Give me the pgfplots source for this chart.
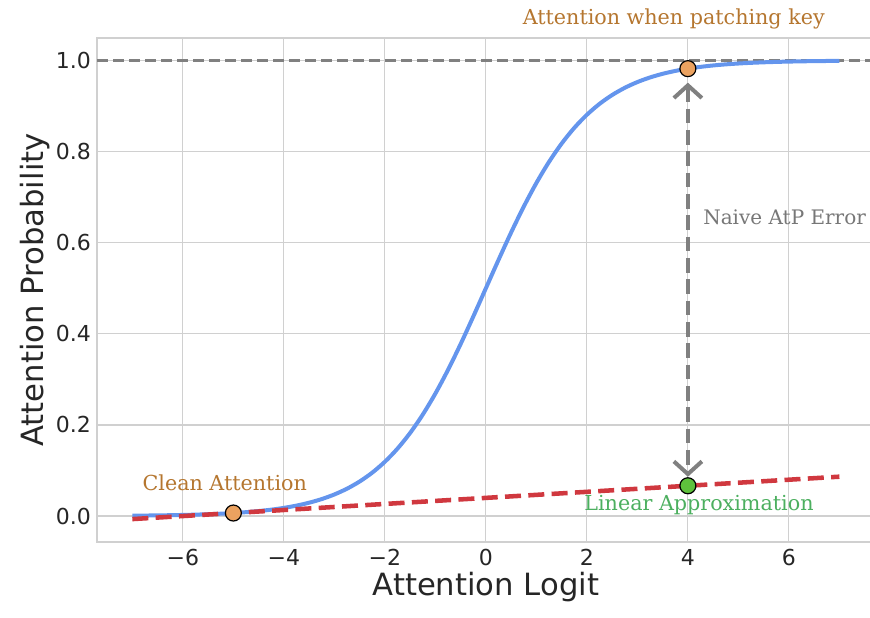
\documentclass[border=0pt]{standalone}
\usepackage{fontspec}
\setmainfont{DejaVu Sans}
\newfontfamily\annfont{DejaVu Serif}
\usepackage{pgfplots}
\pgfplotsset{compat=1.18}
\usetikzlibrary{arrows.meta,calc}
\definecolor{sigblue}{HTML}{6495ED}
\definecolor{tanred}{HTML}{D0383F}
\definecolor{dotorange}{HTML}{EBA260}
\definecolor{dotgreen}{HTML}{5EC13C}
\definecolor{annbrown}{HTML}{B5762F}
\definecolor{anngreen}{HTML}{4CAF5F}
\definecolor{anngray}{HTML}{777777}
\definecolor{gridgray}{HTML}{D0D0D0}
\definecolor{txt}{HTML}{262626}
\begin{document}
\begin{tikzpicture}
\begin{axis}[
  scale only axis,
  width=583.3pt, height=378pt,
  xmin=-7.7, xmax=7.7, ymin=-0.0569, ymax=1.0493,
  xtick={-6,-4,-2,0,2,4,6},
  xticklabels={−6,−4,−2,0,2,4,6},
  ytick={0,0.2,0.4,0.6,0.8,1.0},
  yticklabels={0.0,0.2,0.4,0.6,0.8,1.0},
  tick style={draw=none},
  grid=major,
  major grid style={gridgray, line width=0.9pt},
  axis line style={gridgray, line width=0.9pt},
  ticklabel style={font=\fontsize{16.5}{18}\selectfont, text=txt},
  xticklabel style={yshift=-2pt},
  yticklabel style={xshift=-1pt},
  label style={font=\fontsize{23}{26}\selectfont, text=txt},
  xlabel={Attention Logit},
  ylabel={Attention Probability},
  xlabel style={yshift=2pt},
  ylabel style={yshift=-2pt},
  clip=false,
]
\addplot[color=gray, line width=2.2pt, dash pattern=on 8pt off 4pt] coordinates {(-7.7,1) (7.7,1)};
\addplot[color=sigblue, line width=3pt, smooth] coordinates {
(-7,0.000911) (-6.75,0.001169) (-6.5,0.001501) (-6.25,0.001927) (-6,0.002473)
(-5.75,0.003173) (-5.5,0.004070) (-5.25,0.005220) (-5,0.006693) (-4.75,0.008577)
(-4.5,0.010987) (-4.25,0.014064) (-4,0.017986) (-3.75,0.022977) (-3.5,0.029312)
(-3.25,0.037327) (-3,0.047426) (-2.75,0.060087) (-2.5,0.075858) (-2.25,0.095349)
(-2,0.119203) (-1.75,0.148047) (-1.5,0.182426) (-1.25,0.222700) (-1,0.268941)
(-0.75,0.320821) (-0.5,0.377541) (-0.25,0.437823) (0,0.5) (0.25,0.562177)
(0.5,0.622459) (0.75,0.679179) (1,0.731059) (1.25,0.777300) (1.5,0.817574)
(1.75,0.851953) (2,0.880797) (2.25,0.904651) (2.5,0.924142) (2.75,0.939913)
(3,0.952574) (3.25,0.962673) (3.5,0.970688) (3.75,0.977023) (4,0.982014)
(4.25,0.985936) (4.5,0.989013) (4.75,0.991423) (5,0.993307) (5.25,0.994780)
(5.5,0.995930) (5.75,0.996827) (6,0.997527) (6.25,0.998073) (6.5,0.998499)
(6.75,0.998831) (7,0.999089)
};
\addplot[color=tanred, line width=3.4pt, dash pattern=on 12pt off 5.5pt] coordinates {(-7,-0.006603) (7,0.086469)};
\addplot[color=gray, line width=3pt, dash pattern=on 11pt off 5pt,
  {Straight Barb[length=9.5pt, width=21pt, line width=3pt]}-{Straight Barb[length=9.5pt, width=21pt, line width=3pt]},
  shorten <=10.5pt, shorten >=6.75pt] coordinates {(4,0.982014) (4,0.066525)};
\addplot[only marks, mark=*, mark size=6pt, mark options={fill=dotorange, draw=black, line width=0.9pt}] coordinates {(-5,0.006693) (4,0.982014)};
\addplot[only marks, mark=*, mark size=6pt, mark options={fill=dotgreen, draw=black, line width=0.9pt}] coordinates {(4,0.066525)};
\node[font=\annfont\fontsize{15.5}{17}\selectfont, text=annbrown] at (axis cs:3.72,1.092) {Attention when patching key};
\node[font=\annfont\fontsize{15}{17}\selectfont, text=anngray, anchor=west, inner sep=0pt] at (axis cs:4.30,0.656) {Naive AtP Error};
\node[font=\annfont\fontsize{15.5}{17}\selectfont, text=annbrown] at (axis cs:-5.17,0.072) {Clean Attention};
\node[font=\annfont\fontsize{15.5}{17}\selectfont, text=anngreen] at (axis cs:4.22,0.024) {Linear Approximation};
\end{axis}
\pgfresetboundingbox
\path[use as bounding box] ($(current axis.south west)+(-72.75pt,-56.25pt)$) rectangle ($(current axis.south west)+(579.75pt,406.5pt)$);
\end{tikzpicture}
\end{document}
